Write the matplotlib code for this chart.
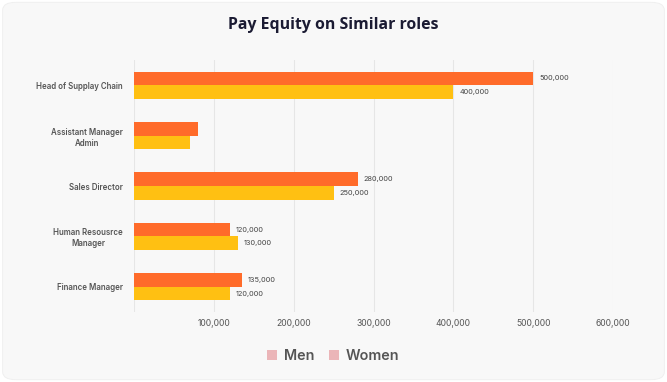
import matplotlib
matplotlib.use("Agg")
import matplotlib.pyplot as plt
from matplotlib.patches import FancyBboxPatch, Patch

categories = ["Head of Supplay Chain", "Assistant Manager\nAdmin", "Sales Director",
              "Human Resousrce\nManager", "Finance Manager"]
men = [500000, 80000, 280000, 120000, 135000]
women = [400000, 70000, 250000, 130000, 120000]
men_labels = ["500,000", "", "280,000", "120,000", "135,000"]
women_labels = ["400,000", "", "250,000", "130,000", "120,000"]
xticks = [0, 100000, 200000, 300000, 400000, 500000, 600000]
xtick_labels = ["", "100,000", "200,000", "300,000", "400,000", "500,000", "600,000"]

W, H = 667, 382
fig = plt.figure(figsize=(W / 100, H / 100), dpi=100)
fig.patch.set_facecolor("white")
card = FancyBboxPatch((0.004, 0.006), 0.992, 0.988, boxstyle="round,pad=0,rounding_size=0.02",
                      transform=fig.transFigure, facecolor="#f8f8f8", edgecolor="#eeeeee",
                      linewidth=0.6, zorder=-5)
fig.patches.append(card)

ax = fig.add_axes([134 / W, 1 - 312 / H, (613 - 134) / W, (312 - 60) / H], zorder=2)
ax.set_facecolor("none")

n = len(categories)
ys = list(range(n))
h = 0.27
men_bars = ax.barh([y - h / 2 for y in ys], men, height=h, color="#FF6B2A", zorder=3)
women_bars = ax.barh([y + h / 2 for y in ys], women, height=h, color="#FFC012", zorder=3)

for bars, labels in ((men_bars, men_labels), (women_bars, women_labels)):
    for rect, lab in zip(bars, labels):
        if lab:
            ax.annotate(lab, (rect.get_width(), rect.get_y() + rect.get_height() / 2),
                        xytext=(4.5, 0), textcoords="offset points", va="center", ha="left",
                        fontsize=5.3, color="#444444", family="Inter")

ax.set_ylim(n - 0.5, -0.5)
ax.set_xlim(0, 600000)
ax.set_yticks(ys)
ax.set_yticklabels(categories, fontsize=5.7, color="#555555", family="Inter",
                   fontweight="semibold", multialignment="center", linespacing=1.3)
ax.set_xticks(xticks)
ax.set_xticklabels(xtick_labels, fontsize=6.2, color="#555555", family="Inter")
ax.tick_params(axis="both", length=0)
ax.tick_params(axis="y", pad=8)
ax.tick_params(axis="x", pad=5)
for s in ax.spines.values():
    s.set_visible(False)
ax.grid(axis="x", color="#e6e6e6", linewidth=0.8, zorder=0)
ax.set_axisbelow(True)

fig.text(0.5, 1 - 25 / H, "Pay Equity on Similar roles", ha="center", va="center",
         fontsize=11.4, fontweight="bold", color="#1b1b33", family="Open Sans")

handles = [Patch(facecolor="#EBB5B8", edgecolor="none", label="Men"),
           Patch(facecolor="#EBB5B8", edgecolor="none", label="Women")]
leg = fig.legend(handles=handles, loc="center", bbox_to_anchor=(333 / W, 1 - 356 / H),
                 ncol=2, frameon=False, handlelength=0.7, handleheight=0.7,
                 handletextpad=0.5, columnspacing=1.0,
                 prop={"family": "Inter", "size": 10.3, "weight": "semibold"})
for t in leg.get_texts():
    t.set_color("#555555")

fig.savefig("out.png", dpi=100, facecolor="white")
